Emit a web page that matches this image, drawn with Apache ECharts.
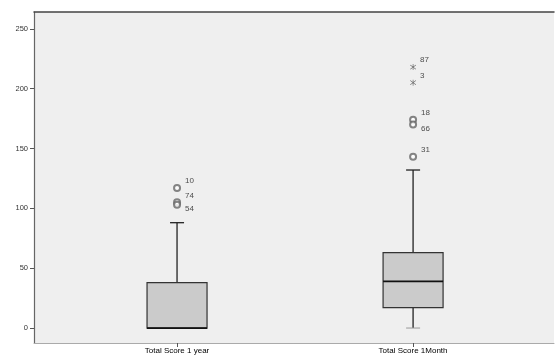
<!DOCTYPE html>
<html>
<head>
<meta charset="utf-8">
<script src="https://cdn.jsdelivr.net/npm/echarts@6/dist/echarts.min.js"></script>
<style>
html,body{margin:0;padding:0;background:#fff;}
#c{width:555px;height:358px;}
</style>
</head>
<body>
<div id="c"></div>
<script>
// ---- data ----
var categories = ['Total Score 1 year', 'Total Score 1Month'];
// [min whisker, Q1, median, Q3, max whisker]
var boxStats = [
  [0, 0, 0, 38, 88],
  [0, 17, 39, 63, 132]
];
// outliers: [categoryIndex(1-based), value, case label]
var circleOutliers = [
  [1, 117, '10'],
  [1, 105, '74'],
  [1, 103, '54'],
  [2, 174, '18'],
  [2, 170, '66'],
  [2, 143, '31']
];
var extremeOutliers = [
  [2, 218, '87'],
  [2, 205, '3']
];
var yTicks = [0, 50, 100, 150, 200, 250];

// ---- chart ----
var chart = echarts.init(document.getElementById('c'), null, {renderer: 'canvas'});
var boxData = boxStats.map(function (s, i) { return [i + 1].concat(s); });
var star = 'path://M-0.5,-5L0.5,-5L0.5,5L-0.5,5Z M-4.6,-3.1L-4.1,-3.9L4.6,3.1L4.1,3.9Z M-4.1,3.9L-4.6,3.1L4.1,-3.9L4.6,-3.1Z';
var FONT = 'Liberation Sans, Arial, sans-serif';
var labelCfg = {
  show: true, position: 'right', distance: 4, offset: [0, -7],
  fontFamily: FONT, fontSize: 8, color: '#222',
  formatter: function (p) { return p.data.value[2]; }
};
// label placement rule: a point lying just below the previous one of the same box gets its label below
function withLabels(list) {
  return list.map(function (d, i) {
    var prev = list[i - 1];
    var item = {value: d};
    if (prev && prev[0] === d[0] && prev[1] - d[1] <= 5) {
      item.label = {offset: [0, 4]};
    }
    return item;
  });
}

chart.setOption({
  animation: false,
  grid: {left: 34, right: 1, top: 12, bottom: 15, show: true, backgroundColor: '#efefef', borderWidth: 0},
  xAxis: [{
    type: 'value', min: 0.394, max: 2.597,
    splitLine: {show: false},
    axisLine: {show: true, onZero: false, lineStyle: {color: '#aaa', width: 1}},
    axisTick: {show: true, customValues: [1, 2], length: 4, lineStyle: {color: '#555'}},
    axisLabel: {
      customValues: [1, 2], margin: 4,
      fontFamily: FONT, fontSize: 8, color: '#000',
      formatter: function (v) { return categories[Math.round(v) - 1] || ''; }
    }
  }, {
    type: 'value', min: 0.394, max: 2.597, position: 'top',
    splitLine: {show: false},
    axisLine: {show: true, onZero: false, lineStyle: {color: '#444', width: 1.5}},
    axisTick: {show: false}, axisLabel: {show: false}
  }],
  yAxis: {
    type: 'value', min: -12.5, max: 264,
    splitLine: {show: false},
    axisLine: {show: true, onZero: false, lineStyle: {color: '#666', width: 1.2}},
    axisTick: {show: true, customValues: yTicks, length: 4, lineStyle: {color: '#555'}},
    axisLabel: {
      customValues: yTicks, margin: 6,
      fontFamily: FONT, fontSize: 7.5, color: '#333'
    }
  },
  series: [{
    type: 'custom',
    data: boxData,
    renderItem: function (params, api) {
      var x = api.value(0);
      var lo = api.coord([x, api.value(1)]);
      var q1 = api.coord([x, api.value(2)]);
      var md = api.coord([x, api.value(3)]);
      var q3 = api.coord([x, api.value(4)]);
      var hi = api.coord([x, api.value(5)]);
      var cx = lo[0], bw = 60, cw = 14;
      var line = {stroke: '#222', lineWidth: 1.3};
      return {
        type: 'group',
        children: [
          {type: 'line', shape: {x1: cx, y1: hi[1], x2: cx, y2: q3[1]}, style: line},
          {type: 'line', shape: {x1: cx, y1: q1[1], x2: cx, y2: lo[1]}, style: line},
          {type: 'line', shape: {x1: cx - cw / 2, y1: hi[1], x2: cx + cw / 2, y2: hi[1]}, style: line},
          {type: 'line', shape: {x1: cx - cw / 2, y1: lo[1], x2: cx + cw / 2, y2: lo[1]}, style: {stroke: '#999', lineWidth: 1}},
          {type: 'rect', shape: {x: cx - bw / 2, y: q3[1], width: bw, height: q1[1] - q3[1]},
            style: {fill: '#cbcbcb', stroke: '#333', lineWidth: 1.2}},
          {type: 'line', shape: {x1: cx - bw / 2, y1: md[1], x2: cx + bw / 2, y2: md[1]}, style: {stroke: '#111', lineWidth: 1.8}}
        ]
      };
    },
    z: 2
  }, {
    type: 'scatter',
    data: withLabels(circleOutliers),
    symbol: 'emptyCircle', symbolSize: 6,
    itemStyle: {color: '#666', borderWidth: 0.7},
    label: labelCfg,
    z: 3
  }, {
    type: 'scatter',
    data: withLabels(extremeOutliers),
    symbol: star, symbolSize: 6,
    itemStyle: {color: '#444'},
    label: labelCfg,
    z: 3
  }]
});
</script>
</body>
</html>
